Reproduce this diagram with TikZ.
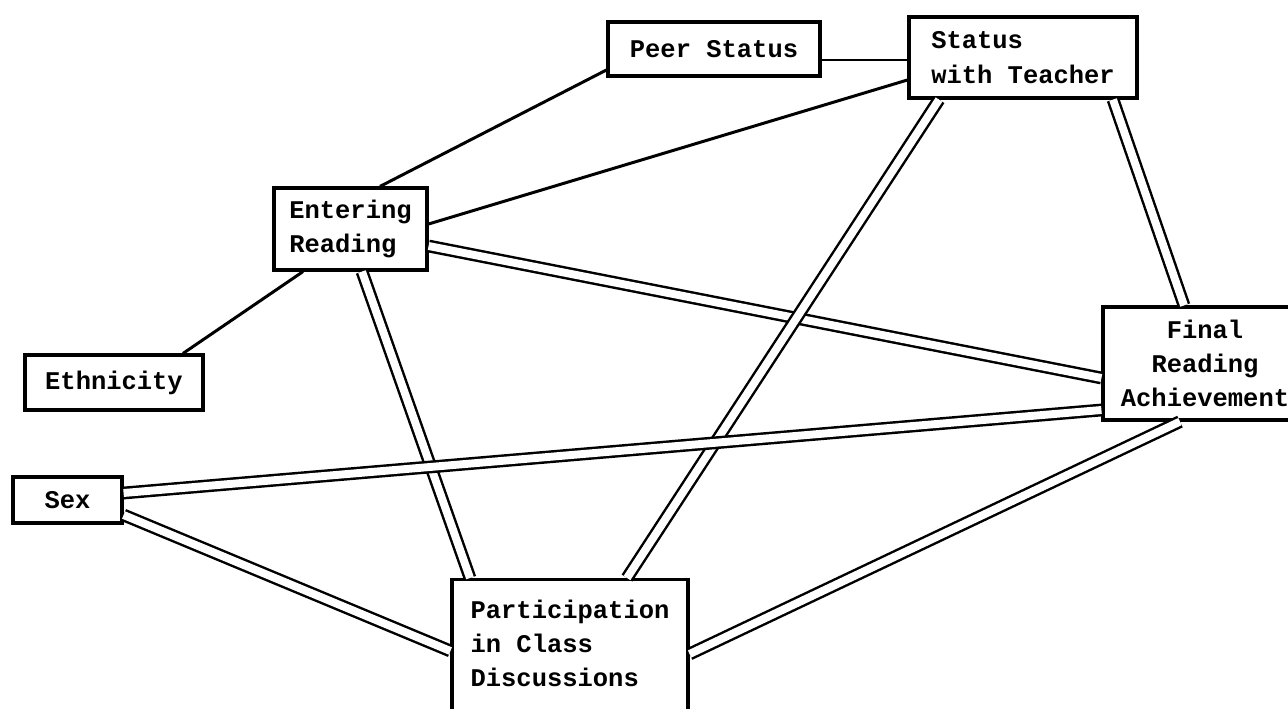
\documentclass[tikz,border=0pt]{standalone}
\usepackage{fontspec}
\setmonofont{Liberation Mono}
\begin{document}
\begin{tikzpicture}
	\tikzset{
		box/.style={draw,line width=1.8pt,inner sep=0pt,align=center,
			font=\ttfamily\bfseries\fontsize{14.5}{19.5}\selectfont},
		single/.style={line width=1.7pt},
		link/.style={double,double distance=4.5pt,line width=1.4pt}}
	\useasboundingbox (0,0) rectangle (25.76,-14.18);
	\clip (0,0) rectangle (25.76,-14.18);
	\node[box,minimum width=4.24cm,minimum height=1.08cm](peer) at (14.28,-0.98){Peer Status};
	\node[box,align=left,minimum width=4.56cm,minimum height=1.62cm](teach) at (20.46,-1.15){Status\\with Teacher};
	\node[box,align=left,minimum width=3.06cm,minimum height=1.64cm](enter) at (7.01,-4.58){Entering\\Reading};
	\node[box,minimum width=3.56cm,minimum height=1.10cm](eth) at (2.28,-7.65){Ethnicity};
	\node[box,minimum width=4.08cm,minimum height=2.26cm](final) at (24.1,-7.27){Final\\Reading\\Achievement};
	\node[box,minimum width=2.18cm,minimum height=0.92cm](sex) at (1.35,-10.0){Sex};
	\node[box,anchor=north,align=left,minimum width=4.72cm,inner ysep=0.4cm,text depth=2.9cm](part) at (11.4,-11.56){Participation\\in Class\\Discussions};
	\draw[single]([yshift=-0.42cm]peer.west)--([xshift=0.59cm]enter.north);
	\draw[single]([yshift=-0.22cm]peer.east)--([yshift=-0.05cm]teach.west);
	\draw[single]([yshift=-0.45cm]teach.west)--([yshift=0.1cm]enter.east);
	\draw[single]([xshift=-0.95cm]enter.south)--([xshift=1.38cm]eth.north);
	\draw[link]([yshift=-0.34cm]enter.east)--([yshift=-0.29cm]final.west);
	\draw[link]([xshift=0.23cm]enter.south)--([xshift=-2cm]part.north);
	\draw[link]([xshift=-1.68cm]teach.south)--([xshift=1.14cm]part.north);
	\draw[link]([xshift=1.8cm]teach.south)--([xshift=-0.42cm]final.north);
	\draw[link]([yshift=0.14cm]sex.east)--([yshift=-0.93cm]final.west);
	\draw[link]([yshift=-0.3cm]sex.east)--([yshift=-1.46cm]part.north west);
	\draw[link]([xshift=-0.5cm]final.south)--([yshift=-1.52cm]part.north east);
\end{tikzpicture}
\end{document}
